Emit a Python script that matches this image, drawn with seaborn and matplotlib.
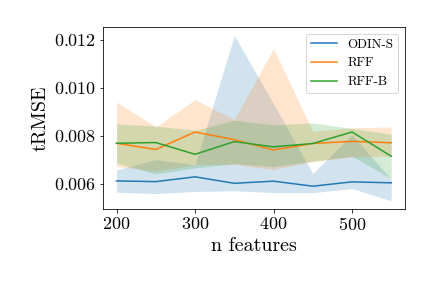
import numpy as np
import pandas as pd
import matplotlib
matplotlib.use("Agg")
import matplotlib.pyplot as plt
import seaborn as sns

n_features = [200, 250, 300, 350, 400, 450, 500, 550]
methods = ["ODIN-S", "RFF", "RFF-B"]

odin_mean = [0.00611, 0.00608, 0.00628, 0.00601, 0.00610, 0.00589, 0.00607, 0.00603]
odin_low = [0.00564, 0.00558, 0.00567, 0.00570, 0.00562, 0.00562, 0.00579, 0.00528]
odin_high = [0.00657, 0.00700, 0.00678, 0.01218, 0.00932, 0.00642, 0.00804, 0.00617]

rff_mean = [0.00768, 0.00742, 0.00815, 0.00783, 0.00740, 0.00767, 0.00776, 0.00770]
rff_low = [0.00672, 0.00651, 0.00679, 0.00680, 0.00658, 0.00692, 0.00710, 0.00714]
rff_high = [0.00940, 0.00836, 0.00950, 0.00867, 0.01163, 0.00818, 0.00832, 0.00836]

rffb_mean = [0.00768, 0.00771, 0.00722, 0.00775, 0.00753, 0.00767, 0.00815, 0.00714]
rffb_low = [0.00686, 0.00640, 0.00665, 0.00683, 0.00670, 0.00693, 0.00714, 0.00620]
rffb_high = [0.00849, 0.00840, 0.00822, 0.00864, 0.00845, 0.00853, 0.00830, 0.00806]

means = [odin_mean, rff_mean, rffb_mean]
lows = [odin_low, rff_low, rffb_low]
highs = [odin_high, rff_high, rffb_high]

df = pd.DataFrame({
    "n features": n_features * 3,
    "tRMSE": odin_mean + rff_mean + rffb_mean,
    "method": [m for m in methods for _ in n_features],
})

plt.rcParams["font.family"] = "cmr10"
plt.rcParams["axes.formatter.use_mathtext"] = True
plt.rcParams["mathtext.fontset"] = "cm"

fig, ax = plt.subplots(figsize=(6, 4), dpi=72)
fig.subplots_adjust(left=0.238, right=0.9375, bottom=0.274, top=0.906)

colors = sns.color_palette("tab10", 3)
sns.lineplot(data=df, x="n features", y="tRMSE", hue="method",
             palette=colors, errorbar=None, ax=ax, linewidth=1.5)
for c, lo, hi in zip(colors, lows, highs):
    ax.fill_between(n_features, lo, hi, color=c, alpha=0.2, linewidth=0)

ax.set_xlabel("n features", fontsize=20)
ax.set_ylabel("tRMSE", fontsize=20)
ax.tick_params(labelsize=18)
ax.set_yticks([0.006, 0.008, 0.010, 0.012])
ax.set_xticks([200, 300, 400, 500])
ax.legend(loc="upper right", fontsize=13, title=None)

plt.savefig("out.png", dpi=72)
plt.close()
